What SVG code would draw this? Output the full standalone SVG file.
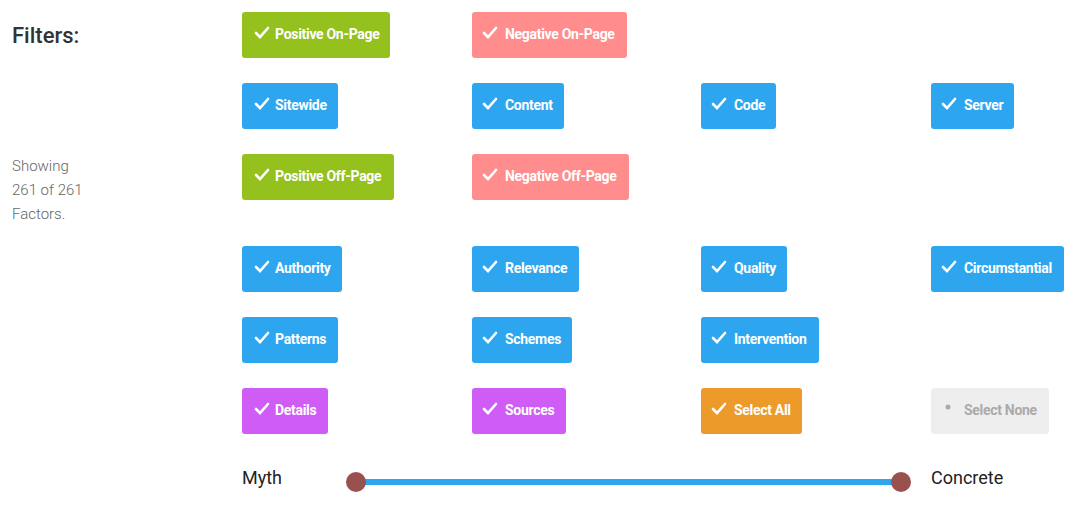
<svg xmlns="http://www.w3.org/2000/svg" width="1086" height="521" viewBox="0 0 1086 521">
<style>
.b rect{rx:3px}
.g rect{fill:#95c11f}.r rect{fill:#ff8d8d}.u rect{fill:#2ea6ef}.p rect{fill:#cf5cf5}.o rect{fill:#ec9b2a}.n rect{fill:#eeeeee}
.b text{font-family:Roboto,"Liberation Sans",sans-serif;font-size:14px;font-weight:bold;fill:#fff;letter-spacing:-0.3px}
.n text{fill:#aaa}
.ck{fill:none;stroke:#fff;stroke-width:2.6;stroke-linecap:round}
.lbl{font-family:Roboto,"Liberation Sans",sans-serif;font-size:18px;fill:#222}
.sm{font-family:Roboto,"Liberation Sans",sans-serif;font-size:15px;fill:#666;font-weight:300}
</style>
<defs><path id="c" class="ck" d="M0 7 L4 11 L12 2"/></defs>
<text x="12" y="43" font-family="Roboto,'Liberation Sans',sans-serif" font-size="22" font-weight="500" fill="#333">Filters:</text>
<text class="sm" x="12" y="171">Showing</text>
<text class="sm" x="12" y="195">261 of 261</text>
<text class="sm" x="12" y="219">Factors.</text>
<g id="pos-on" class="b g"><rect x="242" y="12" width="148" height="46"/><use href="#c" x="256" y="26"/><text x="275" y="39">Positive On-Page</text></g>
<g id="neg-on" class="b r"><rect x="472" y="12" width="155" height="46"/><use href="#c" x="484" y="26"/><text x="505" y="39">Negative On-Page</text></g>
<g id="sitewide" class="b u"><rect x="242" y="83" width="96" height="46"/><use href="#c" x="256" y="97"/><text x="275" y="110">Sitewide</text></g>
<g id="content" class="b u"><rect x="472" y="83" width="92" height="46"/><use href="#c" x="484" y="97"/><text x="505" y="110">Content</text></g>
<g id="code" class="b u"><rect x="701" y="83" width="75" height="46"/><use href="#c" x="713" y="97"/><text x="734" y="110">Code</text></g>
<g id="server" class="b u"><rect x="931" y="83" width="83" height="46"/><use href="#c" x="943" y="97"/><text x="964" y="110">Server</text></g>
<g id="pos-off" class="b g"><rect x="242" y="154" width="152" height="46"/><use href="#c" x="256" y="168"/><text x="275" y="181">Positive Off-Page</text></g>
<g id="neg-off" class="b r"><rect x="472" y="154" width="157" height="46"/><use href="#c" x="484" y="168"/><text x="505" y="181">Negative Off-Page</text></g>
<g id="authority" class="b u"><rect x="242" y="246" width="100" height="46"/><use href="#c" x="256" y="260"/><text x="275" y="273">Authority</text></g>
<g id="relevance" class="b u"><rect x="472" y="246" width="107" height="46"/><use href="#c" x="484" y="260"/><text x="505" y="273">Relevance</text></g>
<g id="quality" class="b u"><rect x="701" y="246" width="86" height="46"/><use href="#c" x="713" y="260"/><text x="734" y="273">Quality</text></g>
<g id="circ" class="b u"><rect x="931" y="246" width="133" height="46"/><use href="#c" x="943" y="260"/><text x="964" y="273">Circumstantial</text></g>
<g id="patterns" class="b u"><rect x="242" y="317" width="96" height="46"/><use href="#c" x="256" y="331"/><text x="275" y="344">Patterns</text></g>
<g id="schemes" class="b u"><rect x="472" y="317" width="100" height="46"/><use href="#c" x="484" y="331"/><text x="505" y="344">Schemes</text></g>
<g id="intervention" class="b u"><rect x="701" y="317" width="118" height="46"/><use href="#c" x="713" y="331"/><text x="734" y="344">Intervention</text></g>
<g id="details" class="b p"><rect x="242" y="388" width="86" height="46"/><use href="#c" x="256" y="402"/><text x="275" y="415">Details</text></g>
<g id="sources" class="b p"><rect x="472" y="388" width="94" height="46"/><use href="#c" x="484" y="402"/><text x="505" y="415">Sources</text></g>
<g id="selall" class="b o"><rect x="701" y="388" width="101" height="46"/><use href="#c" x="713" y="402"/><text x="734" y="415">Select All</text></g>
<g id="selnone" class="b n"><rect x="931" y="388" width="118" height="46"/><circle cx="948" cy="407" r="2.5" fill="#aaa"/><text x="964" y="415">Select None</text></g>
<text class="lbl" x="242" y="484">Myth</text>
<text class="lbl" x="931" y="484">Concrete</text>
<g id="slider">
<line x1="356" y1="482" x2="901" y2="482" stroke="#2ea6ef" stroke-width="6"/>
<circle cx="356" cy="482" r="10" fill="#9b5050"/>
<circle cx="901" cy="482" r="10" fill="#9b5050"/>
</g>
</svg>
